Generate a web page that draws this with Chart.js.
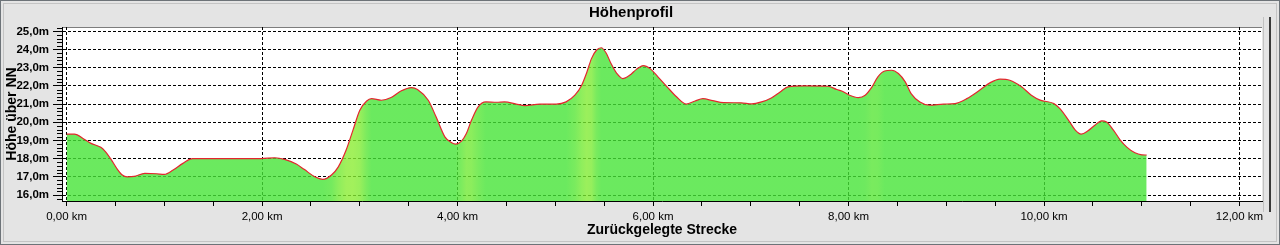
<!DOCTYPE html>
<html>
<head>
<meta charset="utf-8">
<script src="https://cdn.jsdelivr.net/npm/chart.js@4.4.1/dist/chart.umd.min.js"></script>
<style>
  html, body { margin: 0; padding: 0; background: #e4e4e4; }
  #wrap { position: relative; width: 1280px; height: 245px; }
</style>
</head>
<body>
<div id="wrap"><canvas id="chart"></canvas></div>
<script>
Chart.defaults.font.family = '"Liberation Sans", Arial, sans-serif';
Chart.defaults.color = '#000';

// Strecke (km) und Höhe (m)
const DIST_KM = [
  0.00, 0.08, 0.18, 0.25, 0.35, 0.39, 0.45, 0.52, 0.57, 0.62, 0.69, 0.80, 0.92, 1.00, 1.09, 1.19, 1.29, 1.60, 1.99,
  2.13, 2.23, 2.35, 2.43, 2.54, 2.62, 2.71, 2.78, 2.86, 2.93, 3.00, 3.07, 3.12, 3.22, 3.32, 3.42, 3.53, 3.59, 3.70,
  3.78, 3.87, 3.94, 3.98, 4.04, 4.09, 4.14, 4.21, 4.29, 4.40, 4.48, 4.60, 4.69, 4.84, 5.01, 5.11, 5.20, 5.27, 5.32,
  5.37, 5.42, 5.47, 5.52, 5.57, 5.63, 5.69, 5.76, 5.83, 5.90, 5.97, 6.05, 6.15, 6.24, 6.34, 6.43, 6.51, 6.61, 6.72,
  6.90, 7.01, 7.11, 7.21, 7.30, 7.38, 7.55, 7.79, 7.88, 7.93, 8.01, 8.10, 8.17, 8.24, 8.30, 8.37, 8.44, 8.51, 8.58,
  8.64, 8.73, 8.83, 8.97, 9.09, 9.21, 9.34, 9.45, 9.55, 9.65, 9.77, 9.87, 9.96, 10.10, 10.16, 10.25, 10.32, 10.38,
  10.45, 10.52, 10.59, 10.64, 10.71, 10.78, 10.85, 10.93, 11.00, 11.05
];
const HEIGHT_M = [
  19.35, 19.35, 19.07, 18.84, 18.62, 18.43, 18.00, 17.41, 17.10, 17.00, 17.02, 17.19, 17.17, 17.13, 17.37, 17.74, 18.00, 18.00, 18.00,
  18.05, 17.96, 17.70, 17.41, 17.00, 16.86, 17.10, 17.55, 18.47, 19.57, 20.66, 21.17, 21.30, 21.21, 21.36, 21.72, 21.91, 21.80, 21.21,
  20.30, 19.20, 18.87, 18.80, 18.96, 19.38, 20.08, 20.85, 21.12, 21.10, 21.12, 21.00, 20.92, 21.00, 21.00, 21.12, 21.49, 22.04, 22.71,
  23.50, 23.96, 24.10, 23.81, 23.23, 22.68, 22.40, 22.58, 22.91, 23.12, 22.95, 22.50, 21.91, 21.40, 21.00, 21.17, 21.30, 21.19, 21.08,
  21.07, 21.01, 21.12, 21.34, 21.67, 21.95, 22.00, 21.98, 21.80, 21.72, 21.49, 21.36, 21.49, 21.95, 22.50, 22.82, 22.86, 22.68, 22.22,
  21.58, 21.12, 20.94, 21.00, 21.03, 21.30, 21.76, 22.18, 22.37, 22.31, 21.95, 21.49, 21.22, 21.03, 20.76, 20.12, 19.57, 19.35,
  19.53, 19.84, 20.08, 20.02, 19.57, 19.02, 18.62, 18.32, 18.21, 18.20
];

const X_TICKS = [0, 0.5, 1, 1.5, 2, 2.5, 3, 3.5, 4, 4.5, 5, 5.5, 6, 6.5, 7, 7.5, 8, 8.5, 9, 9.5, 10, 10.5, 11, 11.5, 12];
const X_LABELED = [0, 2, 4, 6, 8, 10, 12];
const Y_TICKS = [16, 17, 18, 19, 20, 21, 22, 23, 24, 25];

// Anstiege heller/gelblich einfärben (weich verlaufend)
function slopeFill(context) {
  const chart = context.chart;
  const a = chart.chartArea;
  if (!a) return 'rgba(70,228,55,0.8)';
  const xs = chart.scales.x;
  const g = chart.ctx.createLinearGradient(a.left, 0, a.right, 0);
  const base = [70, 228, 55], hi = [150, 238, 50];
  const n = DIST_KM.length;
  let last = -1;
  for (let i = 0; i < n; i++) {
    const i0 = Math.max(0, i - 2), i1 = Math.min(n - 1, i + 2);
    const slope = (HEIGHT_M[i1] - HEIGHT_M[i0]) / (DIST_KM[i1] - DIST_KM[i0]);
    const t = Math.max(0, Math.min(1, (slope - 3) / 11));
    const pos = (xs.getPixelForValue(DIST_KM[i]) - a.left) / (a.right - a.left);
    if (pos <= last || pos < 0 || pos > 1) continue;
    last = pos;
    const c = base.map((b, k) => Math.round(b + (hi[k] - b) * t));
    g.addColorStop(pos, 'rgba(' + c.join(',') + ',0.8)');
  }
  return g;
}

const frame = {
  id: 'frame',
  beforeDraw(chart) {
    const { ctx, width, height, chartArea: a } = chart;
    ctx.save();
    ctx.fillStyle = '#e4e4e4';
    ctx.fillRect(0, 0, width, height);
    ctx.strokeStyle = '#6d7378';
    ctx.strokeRect(0.5, 0.5, width - 1, height - 1);
    ctx.strokeStyle = '#c4c4c4';
    ctx.strokeRect(3.5, 3.5, width - 7, height - 7);
    ctx.fillStyle = '#ffffff';
    ctx.fillRect(a.left, a.top, a.right - a.left, a.bottom - a.top);
    ctx.strokeStyle = '#7d7d7d';
    ctx.beginPath();
    ctx.moveTo(a.left, a.top + 0.5);
    ctx.lineTo(a.right, a.top + 0.5);
    ctx.stroke();
    ctx.strokeStyle = '#c2c2c2';
    ctx.beginPath();
    ctx.moveTo(a.right + 1.5, 17);
    ctx.lineTo(a.right + 1.5, 212);
    ctx.stroke();
    ctx.fillStyle = '#3a3a3a';
    ctx.fillRect(a.right + 7, 17, 2, 195);
    ctx.restore();
  },
  afterDraw(chart) {
    // kleine Hilfsstriche an der Höhenachse
    const { ctx, chartArea: a, scales: { y } } = chart;
    ctx.save();
    ctx.strokeStyle = '#000';
    ctx.lineWidth = 1;
    ctx.beginPath();
    for (let k = 79; k <= 126; k++) {
      if (k % 5 === 0) continue;
      const py = Math.round(y.getPixelForValue(k / 5)) + 0.5;
      if (py < a.top || py > a.bottom) continue;
      ctx.moveTo(a.left - 5, py);
      ctx.lineTo(a.left, py);
    }
    ctx.stroke();
    ctx.restore();
  }
};

new Chart(document.getElementById('chart'), {
  type: 'line',
  data: {
    datasets: [{
      label: 'Höhe',
      data: DIST_KM.map((d, i) => ({ x: d, y: HEIGHT_M[i] })),
      borderColor: '#e3262e',
      borderWidth: 1.2,
      backgroundColor: slopeFill,
      fill: 'start',
      pointRadius: 0,
      cubicInterpolationMode: 'monotone'
    }]
  },
  options: {
    responsive: true,
    maintainAspectRatio: false,
    animation: false,
    layout: { padding: { left: 0, right: 18, top: 0, bottom: 0 } },
    plugins: {
      legend: { display: false },
      tooltip: { enabled: false },
      title: {
        display: true,
        text: 'Höhenprofil',
        color: '#000',
        font: { size: 15, weight: 'bold' },
        padding: { top: 3.5, bottom: 5.5 }
      }
    },
    scales: {
      x: {
        type: 'linear',
        min: -0.047,
        max: 12.23,
        afterBuildTicks: s => { s.ticks = X_TICKS.map(v => ({ value: v })); },
        afterFit: s => { s.height = 44; s.paddingLeft = 0; s.paddingRight = 0; },
        ticks: {
          autoSkip: false,
          maxRotation: 0,
          padding: 4,
          color: '#000',
          font: { size: 11.5 },
          callback: v => X_LABELED.includes(v) ? v.toFixed(2).replace('.', ',') + ' km' : ''
        },
        grid: {
          color: c => (c.tick && X_LABELED.includes(c.tick.value)) ? '#000' : 'rgba(0,0,0,0)',
          tickColor: '#000',
          tickLength: 5,
          tickBorderDash: []
        },
        border: { display: true, color: '#000', width: 1, dash: [3, 2] },
        title: {
          display: true,
          text: 'Zurückgelegte Strecke',
          color: '#000',
          font: { size: 14, weight: 'bold' },
          padding: { top: 0, bottom: 6.6 }
        }
      },
      y: {
        min: 15.67,
        max: 25.24,
        afterBuildTicks: s => { s.ticks = Y_TICKS.map(v => ({ value: v })); },
        afterFit: s => { s.width = 62; s.paddingTop = 0; s.paddingBottom = 0; },
        ticks: {
          autoSkip: false,
          padding: 4,
          color: '#000',
          font: { size: 11.5, weight: 'bold' },
          callback: v => v.toFixed(1).replace('.', ',') + 'm'
        },
        grid: { color: '#000', tickColor: '#000', tickLength: 9, tickBorderDash: [] },
        border: { display: true, color: '#000', width: 1, dash: [3, 2] },
        title: {
          display: true,
          text: 'Höhe über NN',
          color: '#000',
          font: { size: 14, weight: 'bold' },
          padding: { top: 3.6, bottom: 0 }
        }
      }
    }
  },
  plugins: [frame]
});
</script>
</body>
</html>
